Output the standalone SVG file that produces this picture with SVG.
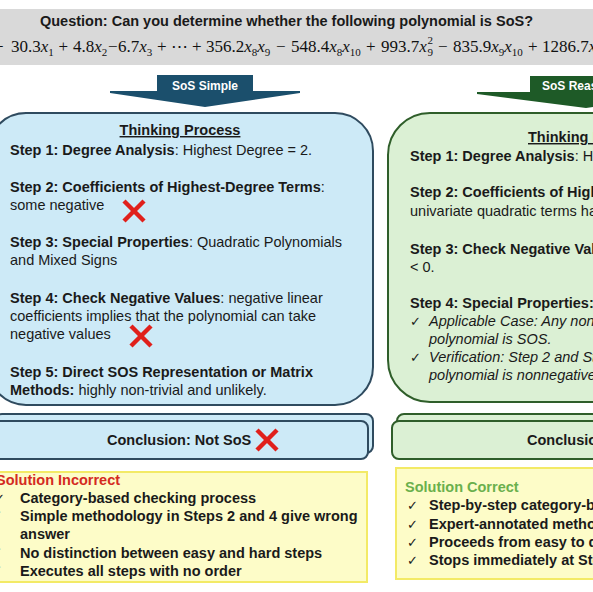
<svg xmlns="http://www.w3.org/2000/svg" width="593" height="592" viewBox="0 0 593 592">
<style>
.t{font-family:"Liberation Sans",Arial,sans-serif;font-size:14.5px;fill:#1a1a1a}
.b{font-weight:bold}
.i{font-style:italic}
.m{font-family:"Liberation Serif","Times New Roman",serif;font-size:17px;fill:#111}
.v{font-style:italic}
.sb{font-size:11px}
.lbl{font-family:"Liberation Sans",Arial,sans-serif;font-size:12px;font-weight:bold;fill:#fff}
.ck{font-family:"DejaVu Sans",sans-serif;font-size:13px;fill:#1a1a1a}
.blue{fill:#cdeaf7;stroke:#2f4b5f;stroke-width:2}
.green{fill:#dbf0d4;stroke:#2f5e2a;stroke-width:2}
.yel{fill:#fdfcc8;stroke:#f3ea66;stroke-width:2}
.x{stroke:#e0201b;stroke-width:4.5;stroke-linecap:butt}
</style>
<defs>
<g id="redx"><line class="x" x1="-10" y1="-10" x2="10" y2="10"/><line class="x" x1="10" y1="-10" x2="-10" y2="10"/></g>
</defs>

<g id="question">
<rect x="0" y="9" width="593" height="56" fill="#d9d9d9"/>
<text class="t b" x="286.5" y="26" text-anchor="middle">Question: Can you determine whether the following polynomial is SoS?</text>
<text class="m" x="-6" y="52">+</text>
<text class="m" x="11" y="52">30.3<tspan class="v">x</tspan><tspan class="sb" dy="4">1</tspan></text>
<text class="m" x="58.5" y="52">+</text>
<text class="m" x="73" y="52">4.8<tspan class="v">x</tspan><tspan class="sb" dy="4">2</tspan></text>
<text class="m" x="108" y="52">−</text>
<text class="m" x="118" y="52">6.7<tspan class="v">x</tspan><tspan class="sb" dy="4">3</tspan></text>
<text class="m" x="157" y="52">+</text>
<text class="m" x="171" y="52">⋯</text>
<text class="m" x="192" y="52">+</text>
<text class="m" x="206" y="52">356.2<tspan class="v">x</tspan><tspan class="sb" dy="4">8</tspan><tspan class="v" dy="-4">x</tspan><tspan class="sb" dy="4">9</tspan></text>
<text class="m" x="276" y="52">−</text>
<text class="m" x="291" y="52">548.4<tspan class="v">x</tspan><tspan class="sb" dy="4">8</tspan><tspan class="v" dy="-4">x</tspan><tspan class="sb" dy="4">10</tspan></text>
<text class="m" x="366" y="52">+</text>
<text class="m" x="381" y="52">993.7<tspan class="v">x</tspan></text>
<text class="m sb" x="427.5" y="44">2</text>
<text class="m sb" x="427.5" y="56">9</text>
<text class="m" x="438" y="52">−</text>
<text class="m" x="453" y="52">835.9<tspan class="v">x</tspan><tspan class="sb" dy="4">9</tspan><tspan class="v" dy="-4">x</tspan><tspan class="sb" dy="4">10</tspan></text>
<text class="m" x="528" y="52">+</text>
<text class="m" x="542" y="52">1286.7<tspan class="v">x</tspan></text>
</g>

<g id="connectors">
<g id="arrow-simple">
<polygon points="157,75 253,75 253,91 300,91 300,93 205,107 110,93 110,91 157,91" fill="#1b4f6c"/>
<text class="lbl" x="205" y="90" text-anchor="middle">SoS Simple</text>
</g>
<g id="arrow-reasoning">
<polygon points="530,76 642,76 642,92 695,92 695,94 586,108 477,94 477,92 530,92" fill="#1e5a27"/>
<text class="lbl" x="586" y="90" text-anchor="middle">SoS Reasoning</text>
</g>
</g>

<g id="box-simple">
<rect class="blue" x="-12" y="113" width="385" height="292" rx="38"/>
<text class="t b" x="180" y="135" text-anchor="middle" text-decoration="underline">Thinking Process</text>
<text class="t" x="10" y="155"><tspan class="b">Step 1: Degree Analysis</tspan>: Highest Degree = 2.</text>
<text class="t" x="10" y="192"><tspan class="b">Step 2: Coefficients of Highest-Degree Terms</tspan>:</text>
<text class="t" x="10" y="210">some negative</text>
<use href="#redx" x="134" y="211"/>
<text class="t" x="10" y="247"><tspan class="b">Step 3: Special Properties</tspan>: Quadratic Polynomials</text>
<text class="t" x="10" y="265">and Mixed Signs</text>
<text class="t" x="10" y="303"><tspan class="b">Step 4: Check Negative Values</tspan>: negative linear</text>
<text class="t" x="10" y="321">coefficients implies that the polynomial can take</text>
<text class="t" x="10" y="339">negative values</text>
<use href="#redx" x="141" y="336"/>
<text class="t b" x="10" y="377">Step 5: Direct SOS Representation or Matrix</text>
<text class="t" x="10" y="395"><tspan class="b">Methods:</tspan> highly non-trivial and unlikely.</text>
</g>

<g id="box-reasoning">
<rect class="green" x="388" y="113" width="300" height="289" rx="42"/>
<text class="t b" x="528" y="142" text-decoration="underline">Thinking Process</text>
<text class="t" x="410" y="161"><tspan class="b">Step 1: Degree Analysis</tspan>: Highest</text>
<text class="t b" x="410" y="197">Step 2: Coefficients of Highest</text>
<text class="t" x="410" y="216">univariate quadratic terms have</text>
<text class="t b" x="410" y="254">Step 3: Check Negative Values</text>
<text class="t" x="410" y="272">&lt; 0.</text>
<text class="t b" x="410" y="308">Step 4: Special Properties:</text>
<text class="ck" x="410" y="326">✓</text>
<text class="t i" x="429" y="326">Applicable Case:  Any nonnegative</text>
<text class="t i" x="429" y="344">polynomial is SOS.</text>
<text class="ck" x="410" y="362">✓</text>
<text class="t i" x="429" y="362">Verification: Step 2 and Step 3</text>
<text class="t i" x="429" y="380">polynomial is nonnegative</text>
</g>

<g id="conclusion-simple">
<rect class="blue" x="-5" y="414" width="378" height="39" rx="7" stroke-width="1.6"/>
<rect class="blue" x="-10" y="421" width="378" height="38" rx="7" stroke-width="1.6"/>
<text class="t b" x="107" y="445">Conclusion: Not SoS</text>
<use href="#redx" x="267" y="440"/>
</g>

<g id="conclusion-reasoning">
<rect class="green" x="397" y="414" width="260" height="39" rx="7" stroke-width="1.6"/>
<rect class="green" x="392" y="421" width="260" height="38" rx="7" stroke-width="1.6"/>
<text class="t b" x="527" y="445">Conclusion: SoS</text>
</g>

<g id="eval-simple">
<rect class="yel" x="-5" y="472" width="372" height="110"/>
<text class="t b" x="-4" y="485" style="fill:#d42a1f">Solution Incorrect</text>
<text class="ck" x="-6" y="503">✓</text>
<text class="t b" x="20" y="503">Category-based checking process</text>
<text class="ck" x="-9" y="521">✗</text>
<text class="t b" x="20" y="521">Simple methodology in Steps 2 and 4 give wrong</text>
<text class="t b" x="20" y="539">answer</text>
<text class="ck" x="-9" y="558">✗</text>
<text class="t b" x="20" y="558">No distinction between easy and hard steps</text>
<text class="ck" x="-9" y="576">✗</text>
<text class="t b" x="20" y="576">Executes all steps with no order</text>
</g>

<g id="eval-reasoning">
<rect class="yel" x="396" y="468" width="250" height="111"/>
<text class="t b" x="405" y="492" style="fill:#6ab04c">Solution Correct</text>
<text class="ck" x="407" y="510">✓</text>
<text class="t b" x="429" y="510">Step-by-step category-based</text>
<text class="ck" x="407" y="529">✓</text>
<text class="t b" x="429" y="529">Expert-annotated methodology</text>
<text class="ck" x="407" y="547">✓</text>
<text class="t b" x="429" y="547">Proceeds from easy to difficult</text>
<text class="ck" x="407" y="565">✓</text>
<text class="t b" x="429" y="565">Stops immediately at Step</text>
</g>
</svg>
